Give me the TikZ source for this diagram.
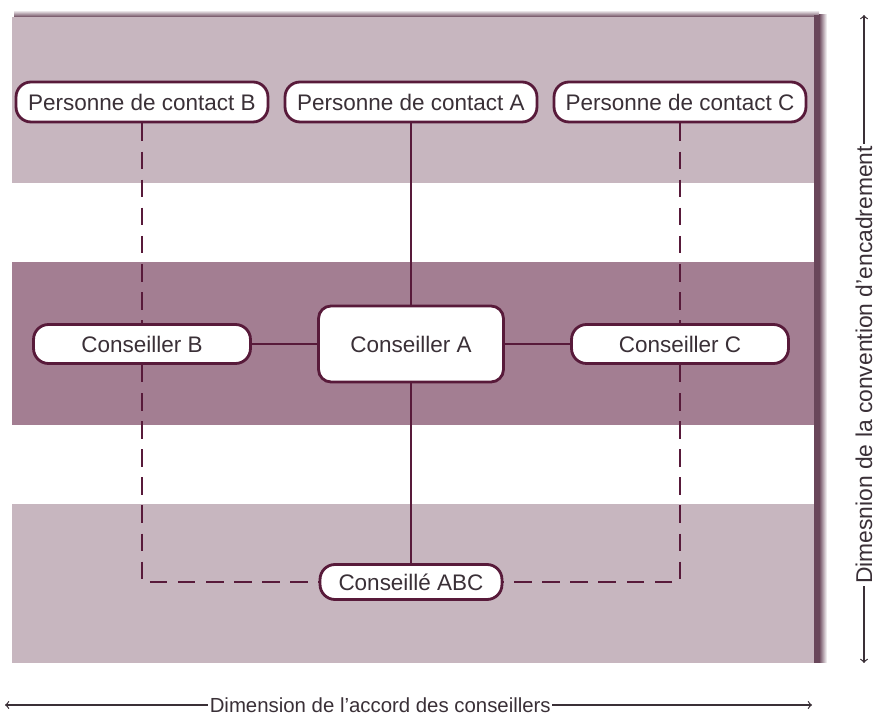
\documentclass[tikz,border=0pt]{standalone}
\usepackage{fontspec}
\setmainfont{Liberation Sans}
\usetikzlibrary{arrows,positioning}
\definecolor{plum}{RGB}{88,26,58}
\definecolor{lightband}{RGB}{199,182,191}
\definecolor{darkband}{RGB}{163,126,146}
\definecolor{shadowc}{RGB}{105,70,90}
\definecolor{textc}{RGB}{58,48,55}

\begin{document}
\begin{tikzpicture}[x=0.02cm, y=-0.02cm, font=\fontsize{12.8}{15}\selectfont]
\tikzset{
    mybox/.style={rectangle, rounded corners=0.3cm, draw=plum, fill=white, line width=1.6pt, text=textc, inner sep=0pt, text centered},
    mycontact/.style={mybox, minimum width=5.04cm, minimum height=0.8cm},
    mycounsel/.style={mybox, minimum width=4.34cm, minimum height=0.78cm},
    myline/.style={draw=plum, line width=1.1pt},
    mydash/.style={myline, dash pattern=on 10pt off 6pt},
    myarrow/.style={<->, >=to, draw=textc, line width=0.7pt},
    mylabel/.style={fill=white, text=textc, inner sep=1pt}
}
\useasboundingbox (0,0) rectangle (876,715);
% bands of the panel
\fill[lightband] (12,17) rectangle (816,183);
\fill[darkband] (12,262) rectangle (816,425);
\fill[lightband] (12,504) rectangle (816,663);
% shadow on top and right edge
\shade[top color=white, bottom color=shadowc] (14,10) rectangle (819,17);
\fill[shadowc] (814,15) rectangle (819,663);
\shade[left color=shadowc, right color=white] (819,15) rectangle (827,663);

\node[mycontact] (contactB) at (142,102) {Personne de contact B};
\node[mycontact] (contactA) at (411,102) {Personne de contact A};
\node[mycontact] (contactC) at (680,102) {Personne de contact C};
\node[mycounsel] (conseillerB) at (142,344) {Conseiller B};
\node[mybox, rounded corners=0.25cm, minimum width=3.7cm, minimum height=1.52cm] (conseillerA) at (411,344) {Conseiller A};
\node[mycounsel] (conseillerC) at (680,344) {Conseiller C};
\node[mybox, minimum width=3.64cm, minimum height=0.7cm] (conseille) at (411,582) {Conseillé ABC};

\draw[myline] (contactA) -- (conseillerA);
\draw[myline] (conseillerA) -- (conseille);
\draw[myline] (conseillerB) -- (conseillerA);
\draw[myline] (conseillerA) -- (conseillerC);
\draw[mydash] (contactB) -- (conseillerB);
\draw[mydash] (conseillerB) |- (conseille);
\draw[mydash] (contactC) -- (conseillerC);
\draw[mydash] (conseillerC) |- (conseille);

% dimensions
\coordinate (vtop) at (864,15);
\coordinate (vbot) at (864,663);
\coordinate (hleft) at (5,705);
\coordinate (hright) at (812,705);
\draw[myarrow] (vbot) -- node[mylabel, rotate=90, pos=0.46, font=\fontsize{13}{15}\selectfont] {Dimesnion de la convention d’encadrement} (vtop);
\draw[myarrow] (hleft) -- node[mylabel, pos=0.465, font=\fontsize{11.6}{14}\selectfont] {Dimension de l’accord des conseillers} (hright);
\end{tikzpicture}
\end{document}
